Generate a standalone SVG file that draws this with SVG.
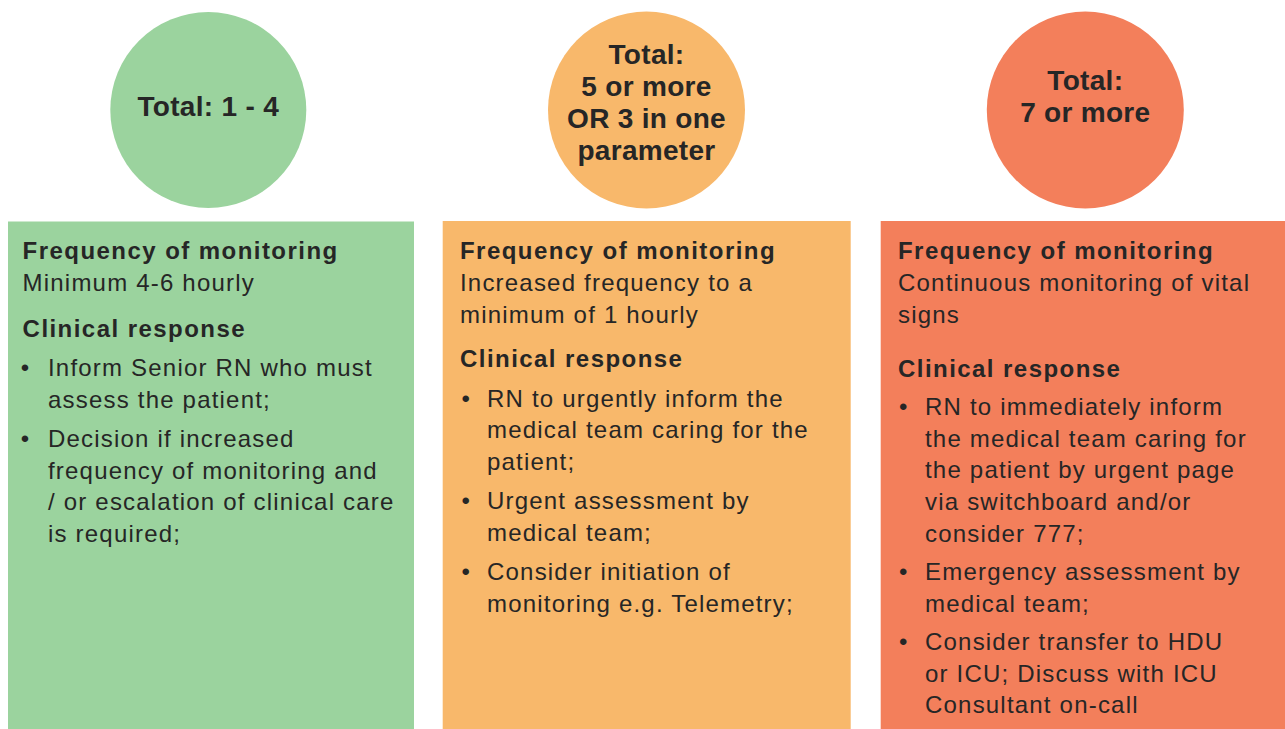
<svg xmlns="http://www.w3.org/2000/svg" width="1285" height="729" viewBox="0 0 1285 729">
  <style>
    text { font-family: "Liberation Sans", Arial, sans-serif; fill: #262626; }
    .c { font-size: 28px; font-weight: bold; text-anchor: middle; letter-spacing: 0.3px; }
    .h { font-size: 24px; font-weight: bold; letter-spacing: 1.45px; }
    .b { font-size: 24px; letter-spacing: 1.2px; }
    .dot { font-size: 24px; text-anchor: middle; }
    .green { fill: #9BD39E; }
    .amber { fill: #F8B86B; }
    .red { fill: #F37F5B; }
  </style>

  <rect width="1285" height="729" fill="#FFFFFF"/>

  <!-- Low score: total 1 - 4 -->
  <g id="score-low">
    <circle class="green" cx="208.3" cy="110" r="98"/>
    <text class="c" x="208.3" y="116">Total: 1 - 4</text>
  </g>
  <g id="response-low">
    <rect class="green" x="8" y="221.5" width="406" height="508"/>
    <text class="h" x="22.6" y="259">Frequency of monitoring</text>
    <text class="b" x="22.6" y="290.5">Minimum 4-6 hourly</text>
    <text class="h" x="22.6" y="337">Clinical response</text>
    <text class="dot" x="25" y="376">•</text>
    <text class="b" x="48" y="376">Inform Senior RN who must</text>
    <text class="b" x="48" y="407.7">assess the patient;</text>
    <text class="dot" x="25" y="447">•</text>
    <text class="b" x="48" y="447">Decision if increased</text>
    <text class="b" x="48" y="478.5">frequency of monitoring and</text>
    <text class="b" x="48" y="510">/ or escalation of clinical care</text>
    <text class="b" x="48" y="541.7">is required;</text>
  </g>

  <!-- Medium score: 5 or more, or 3 in one parameter -->
  <g id="score-medium">
    <circle class="amber" cx="646.5" cy="110" r="98.5"/>
    <text class="c" x="646.5" y="63.5">Total:</text>
    <text class="c" x="646.5" y="95.8">5 or more</text>
    <text class="c" x="646.5" y="128">OR 3 in one</text>
    <text class="c" x="646.5" y="160">parameter</text>
  </g>
  <g id="response-medium">
    <rect class="amber" x="442.7" y="221" width="408" height="508"/>
    <text class="h" x="460" y="259.3">Frequency of monitoring</text>
    <text class="b" x="460" y="291.3">Increased frequency to a</text>
    <text class="b" x="460" y="323">minimum of 1 hourly</text>
    <text class="h" x="460" y="367.3">Clinical response</text>
    <text class="dot" x="465.7" y="406.7">•</text>
    <text class="b" x="487" y="406.7">RN to urgently inform the</text>
    <text class="b" x="487" y="438.4">medical team caring for the</text>
    <text class="b" x="487" y="470">patient;</text>
    <text class="dot" x="465.7" y="509">•</text>
    <text class="b" x="487" y="509">Urgent assessment by</text>
    <text class="b" x="487" y="540.7">medical team;</text>
    <text class="dot" x="465.7" y="580">•</text>
    <text class="b" x="487" y="580">Consider initiation of</text>
    <text class="b" x="487" y="611.7">monitoring e.g. Telemetry;</text>
  </g>

  <!-- High score: 7 or more -->
  <g id="score-high">
    <circle class="red" cx="1085.3" cy="110" r="98.5"/>
    <text class="c" x="1085.3" y="90">Total:</text>
    <text class="c" x="1085.3" y="121.7">7 or more</text>
  </g>
  <g id="response-high">
    <rect class="red" x="880.7" y="221" width="404.3" height="508"/>
    <text class="h" x="898" y="259.3">Frequency of monitoring</text>
    <text class="b" x="898" y="291.3">Continuous monitoring of vital</text>
    <text class="b" x="898" y="322.5">signs</text>
    <text class="h" x="898" y="376.7">Clinical response</text>
    <text class="dot" x="903.3" y="415">•</text>
    <text class="b" x="925" y="415">RN to immediately inform</text>
    <text class="b" x="925" y="446.7">the medical team caring for</text>
    <text class="b" x="925" y="478.4">the patient by urgent page</text>
    <text class="b" x="925" y="510">via switchboard and/or</text>
    <text class="b" x="925" y="541.7">consider 777;</text>
    <text class="dot" x="903.3" y="580">•</text>
    <text class="b" x="925" y="580">Emergency assessment by</text>
    <text class="b" x="925" y="611.7">medical team;</text>
    <text class="dot" x="903.3" y="650">•</text>
    <text class="b" x="925" y="650">Consider transfer to HDU</text>
    <text class="b" x="925" y="681.7">or ICU; Discuss with ICU</text>
    <text class="b" x="925" y="713.3">Consultant on-call</text>
  </g>

  <!-- no connectors in this chart -->
  <g id="connectors"/>
</svg>
